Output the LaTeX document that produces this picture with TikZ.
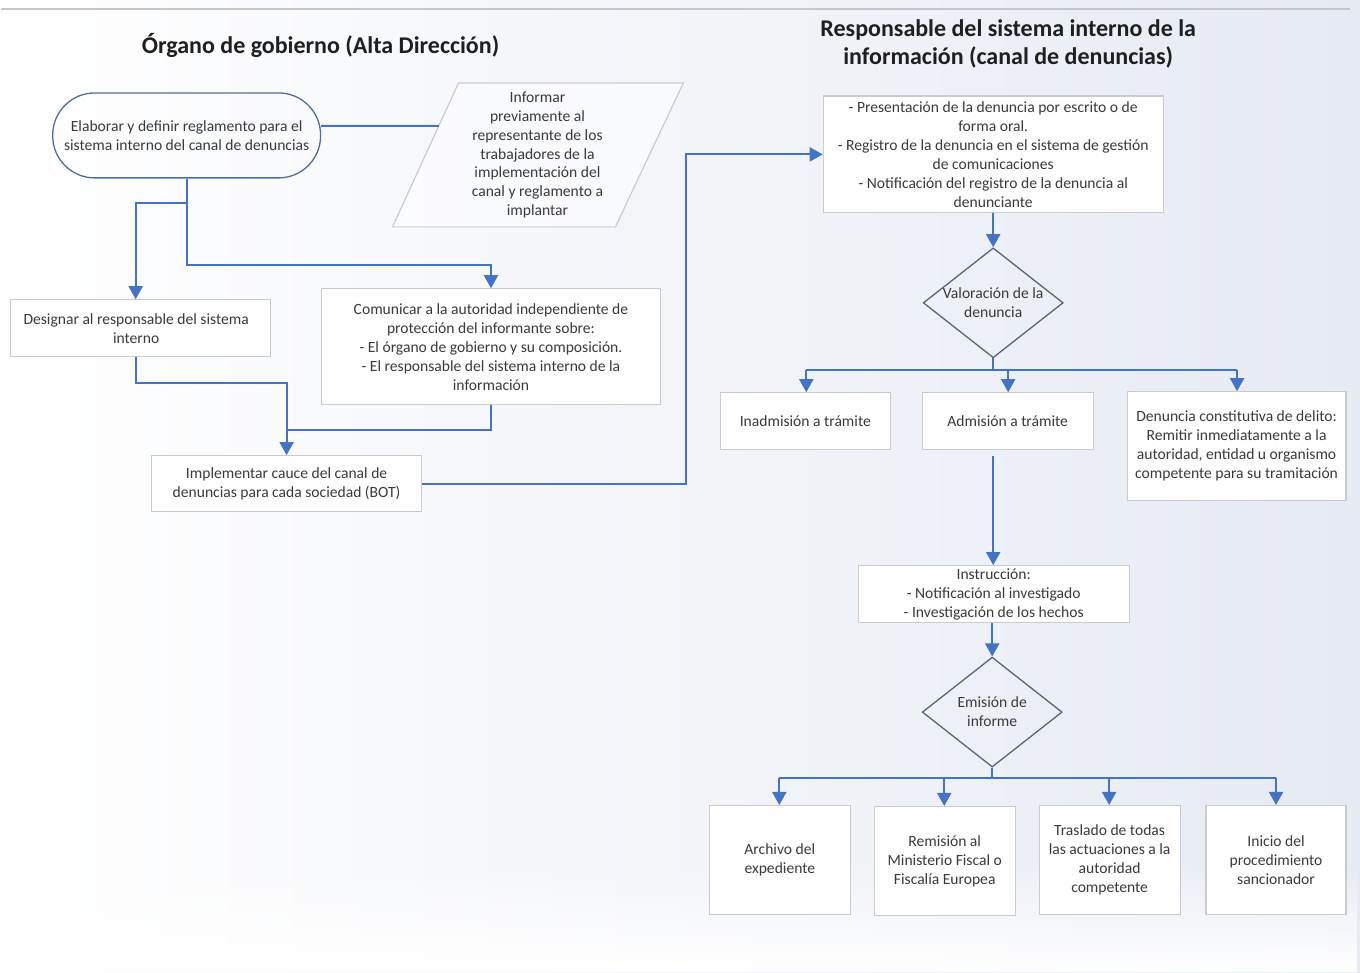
\documentclass[tikz,border=0pt]{standalone}
\usepackage{fontspec}
\setmainfont{Carlito}
\usetikzlibrary{arrows.meta,shapes.geometric,calc,fadings}
\definecolor{conn}{HTML}{4472C4}
\definecolor{boxline}{HTML}{C9CBCE}
\definecolor{txt}{HTML}{3A3A3A}
\definecolor{dia}{HTML}{56657A}
\definecolor{term}{HTML}{4F6E9E}
\definecolor{bgblue}{HTML}{E6EAF3}
\begin{document}
\begin{tikzpicture}[x=1pt,y=-1pt,
  every node/.style={font=\fontsize{15.6}{19}\selectfont, text=txt, align=center, inner sep=0pt},
  proc/.style={draw=boxline, line width=1.2pt, fill=white, rectangle},
  decision/.style={draw=dia, line width=1.3pt, fill=none, diamond, aspect=1.27, minimum width=140pt, minimum height=110pt},
  conline/.style={draw=conn, line width=2pt},
  arr/.style={conline, -{Triangle[length=13pt,width=14pt]}},
  titlef/.style={font=\fontsize{24}{28}\selectfont\bfseries, text=black!88}
]
% background
\shade[left color=white, right color=bgblue, shading angle=90] (0,0) rectangle (1360,973);
\fill[white, path fading=north] (0,860) rectangle (1360,973);
\draw[gray!45, line width=1.5pt] (0,9) -- (1350,9);
\useasboundingbox (0,0) rectangle (1360,973);

% titles
\node[titlef] (t1) at (320,45) {Órgano de gobierno (Alta Dirección)};
\node[titlef] (t2) at (1008,44) {Responsable del sistema interno de la\\información (canal de denuncias)};

% left column
\node[draw=term, line width=1.3pt, fill=none, rounded corners=42pt, minimum width=268pt, minimum height=85pt] (elab) at (186,135.5)
  {Elaborar y definir reglamento para el\\sistema interno del canal de denuncias};

\coordinate (p1) at (458,83);
\coordinate (p2) at (683,83);
\coordinate (p3) at (615,227);
\coordinate (p4) at (392,227);
\draw[boxline, line width=1.2pt, fill=white, fill opacity=0.5] (p1) -- (p2) -- (p3) -- (p4) -- cycle;
\node (inf) at (537,155) {Informar\\previamente al\\representante de los\\trabajadores de la\\implementación del\\canal y reglamento a\\implantar};
\coordinate (parIn) at ($(p1)!0.2986!(p4)$);

\node[proc, minimum width=260pt, minimum height=57pt] (desig) at (140,328.5) {};
\node (desigt) at (135.5,328.5) {Designar al responsable del sistema\\interno};
\node[proc, minimum width=339pt, minimum height=116pt] (comu) at (490.5,347)
  {Comunicar a la autoridad independiente de\\protección del informante sobre:\\- El órgano de gobierno y su composición.\\- El responsable del sistema interno de la\\información};
\node[proc, minimum width=270pt, minimum height=56pt] (impl) at (286,484)
  {Implementar cauce del canal de\\denuncias para cada sociedad (BOT)};

% right column
\node[proc, minimum width=340pt, minimum height=117pt] (pres) at (993,154.5)
  {- Presentación de la denuncia por escrito o de\\forma oral.\\- Registro de la denuncia en el sistema de gestión\\de comunicaciones\\- Notificación del registro de la denuncia al\\denunciante};
\node[decision] (val) at (993,303) {Valoración de la\\denuncia};

\node[proc, minimum width=170pt, minimum height=57pt] (inad) at (805,421.5) {Inadmisión a trámite};
\node[proc, minimum width=171pt, minimum height=57pt] (adm) at (1007.5,421.5) {Admisión a trámite};
\node[proc, minimum width=219pt, minimum height=109pt] (delito) at (1236.5,446.5)
  {Denuncia constitutiva de delito:\\Remitir inmediatamente a la\\autoridad, entidad u organismo\\competente para su tramitación};

\node[proc, minimum width=271pt, minimum height=57pt] (instr) at (993.5,594.5)
  {Instrucción:\\- Notificación al investigado\\- Investigación de los hechos};
\node[decision] (emi) at (992,712.5) {Emisión de\\informe};

\node[proc, minimum width=141pt, minimum height=109pt] (arch) at (779.5,860.5) {Archivo del\\expediente};
\node[proc, minimum width=141pt, minimum height=109pt] (remi) at (944.5,861.5) {Remisión al\\Ministerio Fiscal o\\Fiscalía Europea};
\node[proc, minimum width=141pt, minimum height=109pt] (tras) at (1109.5,860.5) {Traslado de todas\\las actuaciones a la\\autoridad\\competente};
\node[proc, minimum width=140pt, minimum height=109pt] (ini) at (1276,860.5) {Inicio del\\procedimiento\\sancionador};

% connectors left
\draw[conline] (elab.east |- 0,126) -- (parIn);
\coordinate (e1) at (186,203);
\coordinate (e2) at (186,265);
\draw[arr] (elab.south) -- (e1) -| (desig.north -| 135,0);
\draw[arr] (elab.south) -- (e2) -| (comu.north);
\coordinate (j1) at (135,383);
\draw[arr] (desig.south -| j1) -- (j1) -| (impl.north);
\draw[conline] (comu.south) |- (286,430);
\coordinate (k1) at (686,484);
\draw[arr] (impl.east) -- (k1) |- (pres.west);

% connectors right
\draw[arr] (pres.south) -- (val.north);
\coordinate (v1) at (993,370);
\draw[conline] (val.south) -- (v1);
\draw[conline] (806,370) -- (1237,370);
\draw[arr] (806,370) -- (inad.north -| 806,0);
\draw[arr] (1008,370) -- (adm.north -| 1008,0);
\draw[arr] (1237,370) -- (delito.north -| 1237,0);
\coordinate (a1) at (993,456);
\draw[arr] (a1) -- (instr.north -| a1);
\draw[arr] (instr.south -| emi.north) -- (emi.north);
\coordinate (m1) at (992,778);
\draw[conline] (emi.south) -- (m1);
\draw[conline] (779,778) -- (1276,778);
\draw[arr] (779,778) -- (arch.north -| 779,0);
\draw[arr] (944,778) -- (remi.north -| 944,0);
\draw[arr] (1109,778) -- (tras.north -| 1109,0);
\draw[arr] (1276,778) -- (ini.north);
\end{tikzpicture}
\end{document}
